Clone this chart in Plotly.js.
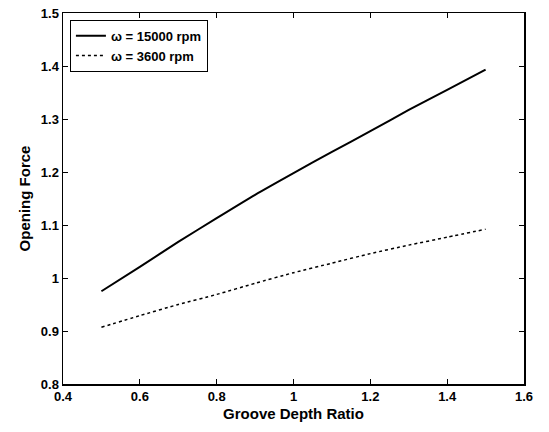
<!DOCTYPE html>
<html>
<head>
<meta charset="utf-8">
<script src="https://cdn.plot.ly/plotly-3.0.1.min.js"></script>
<style>html,body{margin:0;padding:0;background:#fff;}#chart{width:549px;height:432px;}</style>
</head>
<body>
<div id="chart"></div>
<script>
var grooveDepth = [0.5, 0.6, 0.7, 0.8, 0.9, 1.0, 1.1, 1.2, 1.3, 1.4, 1.5];
var force15000 = [0.975, 1.021, 1.068, 1.113, 1.157, 1.198, 1.238, 1.277, 1.317, 1.355, 1.393];
var force3600 = [0.907, 0.929, 0.950, 0.969, 0.990, 1.010, 1.028, 1.046, 1.062, 1.077, 1.092];
var seriesNames = ["ω = 15000 rpm", "ω = 3600 rpm"];
var xTicks = [0.4, 0.6, 0.8, 1, 1.2, 1.4, 1.6];
var yTicks = [0.8, 0.9, 1, 1.1, 1.2, 1.3, 1.4, 1.5];

var fontFam = "Liberation Sans, Arial, sans-serif";
var traces = [
  {x: grooveDepth, y: force15000, name: seriesNames[0], mode: "lines",
   line: {color: "#000", width: 2, shape: "spline", smoothing: 0.6}},
  {x: grooveDepth, y: force3600, name: seriesNames[1], mode: "lines",
   line: {color: "#000", width: 1.5, dash: "dot", shape: "spline", smoothing: 0.6}}
];
var axisCommon = {
  showgrid: false, zeroline: false, showline: true, mirror: "ticks",
  linecolor: "#000", linewidth: 1.5, ticks: "inside", ticklen: 5,
  tickcolor: "#000", tickwidth: 1,
  tickfont: {family: fontFam, size: 13, color: "#000", weight: "bold"}
};
var layout = {
  width: 549, height: 432,
  margin: {l: 63, r: 25, t: 13, b: 48},
  paper_bgcolor: "#fff", plot_bgcolor: "#fff",
  showlegend: true,
  legend: {x: 0.015, y: 0.982, xanchor: "left", yanchor: "top",
    bordercolor: "#000", borderwidth: 1, bgcolor: "#fff",
    font: {family: fontFam, size: 13, color: "#000", weight: "bold"},
    tracegroupgap: 0},
  xaxis: Object.assign({}, axisCommon, {
    range: [0.4, 1.6], tickvals: xTicks, ticktext: xTicks.map(String),
    title: {text: "Groove Depth Ratio", standoff: 5,
      font: {family: fontFam, size: 15, color: "#000", weight: "bold"}}
  }),
  yaxis: Object.assign({}, axisCommon, {
    range: [0.8, 1.5], tickvals: yTicks, ticktext: yTicks.map(String),
    title: {text: "Opening Force", standoff: 6,
      font: {family: fontFam, size: 15, color: "#000", weight: "bold"}}
  })
};
Plotly.newPlot("chart", traces, layout, {displayModeBar: false, staticPlot: true});
</script>
</body>
</html>
